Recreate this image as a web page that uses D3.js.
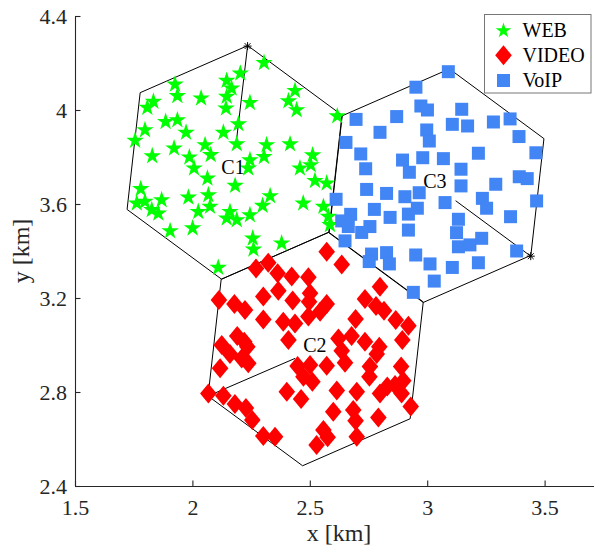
<!DOCTYPE html>
<html>
<head>
<meta charset="utf-8">
<script src="https://cdn.jsdelivr.net/npm/d3@7"></script>
<style>
  html, body { margin: 0; padding: 0; background: #fff; }
  svg { display: block; }
  text { font-family: "Liberation Serif", "Times New Roman", serif; }
</style>
</head>
<body>
<svg id="chart" width="594" height="552"></svg>
<script>
// ---------------- DATA (km) ----------------
const xTicks = [1.5, 2, 2.5, 3, 3.5];
const xTickLabels = ["1.5", "2", "2.5", "3", "3.5"];
const yTicks = [2.4, 2.8, 3.2, 3.6, 4, 4.4];
const yTickLabels = ["2.4", "2.8", "3.2", "3.6", "4", "4.4"];

const cellNames = ["C1", "C2", "C3"];
const cellCenters = [[2.180, 3.777], [2.525, 2.983], [3.039, 3.678]];
const cellLabelPos = [[2.173, 3.757], [2.522, 2.998], [3.033, 3.698]];
const cellRadius = 0.5;
const cellRotationDeg = 23.6;
const baseStations = [[2.235, 4.272], [2.067, 2.783], [3.441, 3.378]];
const antennaEnds = [[2.189, 3.881], [2.437, 2.943], [3.121, 3.614]];

const seriesNames = ["WEB", "VIDEO", "VoIP"];

const webPts = [[2.305,4.201],[2.204,4.156],[2.146,4.125],[2.167,4.092],[1.926,4.109],[1.936,4.060],[2.037,4.050],[2.146,4.057],[2.143,4.007],[2.245,4.031],[1.834,4.036],[1.808,4.010],[2.437,4.082],[2.409,4.038],[2.444,4.000],[2.617,3.974],[1.886,3.950],[1.936,3.957],[1.973,3.904],[1.798,3.915],[1.756,3.870],[2.132,3.904],[2.196,3.940],[2.189,3.855],[1.922,3.837],[1.829,3.804],[1.987,3.799],[2.054,3.851],[2.078,3.809],[2.007,3.752],[2.316,3.851],[2.305,3.801],[2.416,3.855],[2.245,3.787],[2.238,3.752],[2.512,3.808],[2.504,3.766],[2.458,3.752],[2.064,3.709],[2.182,3.678],[2.522,3.699],[2.572,3.688],[1.780,3.664],[1.763,3.603],[1.798,3.610],[1.869,3.617],[1.827,3.575],[1.855,3.560],[1.983,3.628],[2.068,3.638],[2.075,3.589],[2.025,3.567],[2.001,3.497],[1.905,3.485],[2.160,3.567],[2.146,3.539],[2.189,3.532],[2.245,3.553],[2.331,3.634],[2.299,3.593],[2.472,3.603],[2.558,3.589],[2.579,3.546],[2.586,3.511],[2.257,3.454],[2.260,3.407],[2.380,3.433],[2.110,3.329]];

const videoPts = [[2.572,3.397],[2.636,3.343],[2.271,3.326],[2.323,3.350],[2.363,3.305],[2.423,3.291],[2.494,3.288],[2.366,3.231],[2.302,3.206],[2.427,3.189],[2.501,3.220],[2.497,3.184],[2.113,3.192],[2.179,3.175],[2.224,3.149],[2.302,3.109],[2.387,3.099],[2.409,3.021],[2.437,3.092],[2.494,3.121],[2.544,3.142],[2.572,3.175],[2.799,3.248],[2.735,3.196],[2.782,3.166],[2.816,3.146],[2.695,3.111],[2.866,3.106],[2.920,3.082],[2.894,3.021],[2.678,3.038],[2.735,3.014],[2.796,2.993],[2.622,3.028],[2.636,2.976],[2.650,2.925],[2.572,2.912],[2.501,2.915],[2.448,2.911],[2.473,2.865],[2.511,2.844],[2.125,3.000],[2.160,2.962],[2.191,3.038],[2.221,3.014],[2.234,2.993],[2.238,2.922],[2.210,2.943],[2.118,2.901],[2.068,2.794],[2.132,2.784],[2.181,2.749],[2.228,2.732],[2.255,2.681],[2.302,2.613],[2.352,2.610],[2.402,2.801],[2.463,2.770],[2.615,2.806],[2.600,2.716],[2.700,2.801],[2.754,2.865],[2.756,2.908],[2.799,2.794],[2.830,2.823],[2.889,2.908],[2.898,2.848],[2.891,2.794],[2.930,2.738],[2.792,2.692],[2.685,2.723],[2.695,2.678],[2.700,2.610],[2.558,2.638],[2.529,2.574],[2.863,2.830],[2.576,2.607],[2.785,2.962]];

const voipPts = [[3.090,4.163],[2.952,4.097],[2.973,4.017],[3.001,4.000],[3.147,4.003],[2.870,3.972],[2.697,3.960],[2.799,3.905],[2.998,3.915],[3.009,3.868],[3.107,3.939],[3.172,3.932],[3.282,3.949],[3.353,3.962],[3.391,3.887],[2.654,3.862],[2.717,3.813],[2.895,3.787],[2.924,3.735],[2.981,3.797],[3.069,3.793],[3.218,3.816],[3.463,3.818],[2.738,3.750],[3.144,3.748],[3.144,3.677],[3.292,3.684],[3.392,3.716],[3.426,3.708],[2.742,3.662],[2.827,3.645],[2.905,3.631],[2.966,3.648],[2.958,3.582],[2.920,3.557],[3.076,3.606],[3.235,3.624],[3.253,3.582],[3.466,3.613],[2.612,3.620],[2.674,3.556],[2.775,3.577],[2.842,3.543],[2.636,3.528],[2.664,3.504],[2.756,3.504],[2.721,3.479],[2.920,3.489],[3.133,3.535],[3.125,3.478],[3.133,3.418],[3.182,3.426],[3.232,3.454],[3.355,3.546],[2.650,3.443],[2.763,3.387],[2.827,3.393],[2.753,3.355],[2.839,3.345],[2.951,3.383],[3.012,3.345],[3.107,3.330],[3.218,3.350],[3.381,3.400],[3.030,3.272],[2.941,3.224]];

// ---------------- LAYOUT ----------------
const svg = d3.select("#chart");
const W = 594, H = 552;
svg.append("rect").attr("width", W).attr("height", H).attr("fill", "#fff");

const x = d3.scaleLinear().domain([1.5, 3.75]).range([75, 603.3]);
const y = d3.scaleLinear().domain([2.4, 4.4]).range([486, 16]);

const axisColor = "#262626";
const tickFont = 22;

// ---------------- SYMBOLS ----------------
function starPath(r) {
  const pts = [];
  for (let i = 0; i < 10; i++) {
    const a = -Math.PI / 2 + i * Math.PI / 5;
    const rr = (i % 2 === 0) ? r : r * 0.382;
    pts.push([rr * Math.cos(a), rr * Math.sin(a)]);
  }
  return "M" + pts.map(p => p[0].toFixed(2) + "," + p[1].toFixed(2)).join("L") + "Z";
}
function diamondPath(hw, hh) {
  return `M0,${-hh}L${hw},0L0,${hh}L${-hw},0Z`;
}
function squarePath(s) {
  const h = s / 2;
  return `M${-h},${-h}H${h}V${h}H${-h}Z`;
}
const asteriskPath = "M-4,0H4M0,-4V4M-2.9,-2.9L2.9,2.9M-2.9,2.9L2.9,-2.9";

// ---------------- CELLS ----------------
const gCells = svg.append("g");
cellCenters.forEach((c) => {
  const verts = d3.range(6).map(k => {
    const a = (cellRotationDeg + 60 * k) * Math.PI / 180;
    return [x(c[0] + cellRadius * Math.cos(a)), y(c[1] + cellRadius * Math.sin(a))];
  });
  gCells.append("path")
    .attr("d", "M" + verts.map(v => v.join(",")).join("L") + "Z")
    .attr("fill", "none").attr("stroke", "#000").attr("stroke-width", 1);
});
baseStations.forEach((b, i) => {
  gCells.append("line")
    .attr("x1", x(b[0])).attr("y1", y(b[1]))
    .attr("x2", x(antennaEnds[i][0])).attr("y2", y(antennaEnds[i][1]))
    .attr("stroke", "#000").attr("stroke-width", 1);
  gCells.append("path").attr("d", asteriskPath)
    .attr("transform", `translate(${x(b[0])},${y(b[1])})`)
    .attr("fill", "none").attr("stroke", "#000").attr("stroke-width", 1);
});

// ---------------- MARKERS ----------------
const series = [
  { name: seriesNames[0], pts: webPts, d: starPath(9.2), dLeg: starPath(8.2), color: "#00ff00" },
  { name: seriesNames[1], pts: videoPts, d: diamondPath(8.3, 10), dLeg: diamondPath(8.3, 10), color: "#ff0000" },
  { name: seriesNames[2], pts: voipPts, d: squarePath(13), dLeg: squarePath(13), color: "#4285f4" }
];
series.forEach(s => {
  svg.append("g").selectAll("path").data(s.pts).join("path")
    .attr("d", s.d)
    .attr("transform", p => `translate(${x(p[0])},${y(p[1])})`)
    .attr("fill", s.color);
});

// ---------------- CELL LABELS ----------------
cellLabelPos.forEach((c, i) => {
  svg.append("text")
    .attr("x", x(c[0])).attr("y", y(c[1]) + 7)
    .attr("text-anchor", "middle")
    .attr("font-size", 20).attr("fill", "#000")
    .text(cellNames[i]);
});

// ---------------- AXES ----------------
const xAxis = d3.axisBottom(x).tickValues(xTicks)
  .tickFormat((d, i) => xTickLabels[i])
  .tickSizeInner(-5.5).tickSizeOuter(0).tickPadding(13);
const gx = svg.append("g").attr("transform", "translate(0,486)").call(xAxis);
const yAxis = d3.axisLeft(y).tickValues(yTicks)
  .tickFormat((d, i) => yTickLabels[i])
  .tickSizeInner(-5.5).tickSizeOuter(0).tickPadding(8);
const gy = svg.append("g").attr("transform", "translate(75,0)").call(yAxis);
[gx, gy].forEach(g => {
  g.selectAll("path.domain").attr("stroke", axisColor).attr("stroke-width", 1.1);
  g.selectAll(".tick line").attr("stroke", axisColor).attr("stroke-width", 1.1);
  g.selectAll(".tick text").attr("fill", axisColor)
    .attr("font-size", tickFont)
    .attr("font-family", '"Liberation Serif", "Times New Roman", serif');
});

svg.append("text")
  .attr("x", 339).attr("y", 541)
  .attr("text-anchor", "middle").attr("font-size", 24).attr("fill", axisColor)
  .text("x [km]");
svg.append("text")
  .attr("transform", "translate(29,251) rotate(-90)")
  .attr("text-anchor", "middle").attr("font-size", 24).attr("fill", axisColor)
  .text("y [km]");

// ---------------- LEGEND ----------------
const leg = svg.append("g");
leg.append("rect").attr("x", 484.5).attr("y", 14.5).attr("width", 106.5).attr("height", 78.5)
  .attr("fill", "#fff").attr("stroke", "#777").attr("stroke-width", 1);
const legRowsY = [30.7, 55.3, 80.5];
series.forEach((s, i) => {
  leg.append("path").attr("d", s.dLeg)
    .attr("transform", `translate(503.5,${legRowsY[i]})`)
    .attr("fill", s.color);
  leg.append("text").attr("x", 522.5).attr("y", legRowsY[i] + 6.3)
    .attr("font-size", 20).attr("fill", "#000")
    .text(s.name);
});
</script>
</body>
</html>
